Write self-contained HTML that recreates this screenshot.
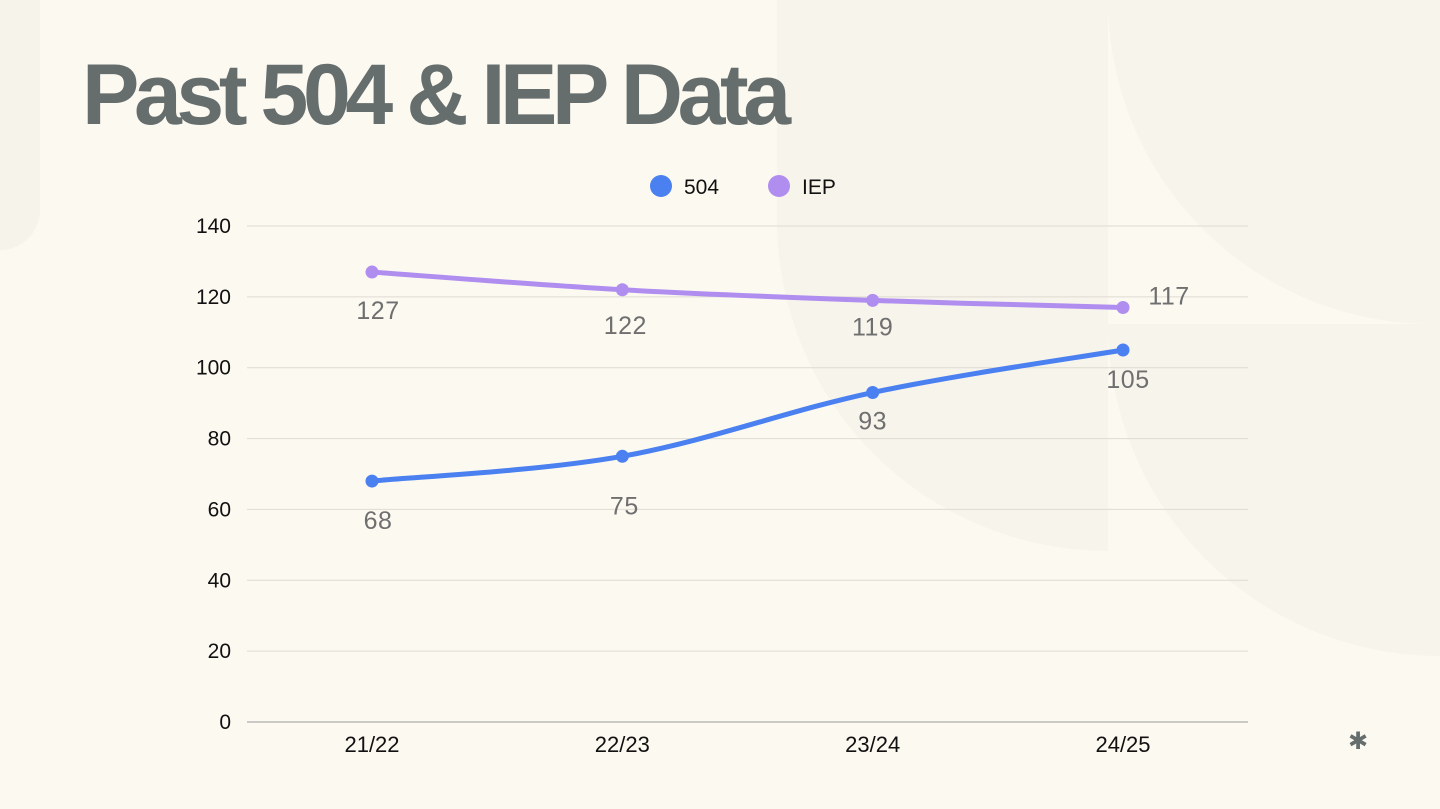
<!DOCTYPE html>
<html><head><meta charset="utf-8">
<style>
html,body{margin:0;padding:0;}
body{width:1440px;height:809px;overflow:hidden;background:#fcf9f1;position:relative;font-family:"Liberation Sans",sans-serif;}
.bg{position:absolute;background:#f7f4ec;}
#title{position:absolute;left:82px;top:45px;font-size:86px;font-weight:bold;color:#666e6d;letter-spacing:-5.4px;white-space:nowrap;line-height:100px;}
svg{position:absolute;left:0;top:0;}
</style></head>
<body>
<div class="bg" style="left:777px;top:0;width:331px;height:551px;border-bottom-left-radius:331px;"></div>
<div class="bg" style="left:1108px;top:0;width:332px;height:324px;border-bottom-left-radius:332px;"></div>
<div class="bg" style="left:1108px;top:324px;width:332px;height:332px;border-bottom-left-radius:332px;"></div>
<div class="bg" style="left:0;top:0;width:40px;height:250px;border-bottom-right-radius:40px;background:#f5f3ea;"></div>
<div id="title">Past 504 &amp; IEP Data</div>
<svg id="chart" width="1440" height="809"></svg>
<script>
const categories=["21/22","22/23","23/24","24/25"];
const series504=[68,75,93,105];
const seriesIEP=[127,122,119,117];
const yTicks=[0,20,40,60,80,100,120,140];
const NS="http://www.w3.org/2000/svg";
const svg=document.getElementById('chart');
const x0=247,x1=1248,y0=722,y1=226,yMax=140;
const step=(1123-372)/(categories.length-1);
function xs(i){return 372+i*step;}
function ys(v){return y0-(v/yMax)*(y0-y1);}
function mk(t,a,txt){const e=document.createElementNS(NS,t);for(const k in a)e.setAttribute(k,a[k]);if(txt!==undefined)e.textContent=txt;svg.appendChild(e);return e;}
yTicks.forEach(v=>{
  const g=mk('line',{x1:x0,x2:x1,y1:ys(v),y2:ys(v),stroke:v===0?'#9a9a9a':'#dedbd2','stroke-width':1});
  
  
  const t=mk('text',{x:231,y:ys(v)+7,'text-anchor':'end','font-size':21,fill:'#111','font-family':'Liberation Sans'},String(v));
  
  
});
categories.forEach((c,i)=>{
  const t=mk('text',{x:xs(i),y:752,'text-anchor':'middle','font-size':22,fill:'#111','font-family':'Liberation Sans'},c);
  
  
});
function path(vals){
  const p=vals.map((v,i)=>[xs(i),ys(v)]);
  let d='M'+p[0][0]+','+p[0][1];
  for(let i=0;i<p.length-1;i++){
    const a=p[i-1]||p[i],b=p[i],c=p[i+1],e=p[i+2]||c;
    const k=0.17;
    d+=' C'+(b[0]+(c[0]-a[0])*k)+','+(b[1]+(c[1]-a[1])*k)+' '+(c[0]-(e[0]-b[0])*k)+','+(c[1]-(e[1]-b[1])*k)+' '+c[0]+','+c[1];
  }
  return d;
}
function drawSeries(vals,color,name,labelPos){
  const l=mk('path',{d:path(vals),fill:'none',stroke:color,'stroke-width':5,'stroke-linecap':'round'});
  
  
  vals.forEach((v,i)=>{
    const c=mk('circle',{cx:xs(i),cy:ys(v),r:6.5,fill:color});
    
    
    const lp=labelPos(i);
    const t=mk('text',{x:xs(i)+lp[0],y:ys(v)+lp[1],'text-anchor':'middle','font-size':25,fill:'#6f6f6f','font-family':'Liberation Sans','letter-spacing':'0.5'},String(v));
    
    
  });
}
const iepOff=[[6,47],[3,44],[0,35],[46,-3]];
const s504Off=[[6,48],[2,58],[0,37],[5,38]];
drawSeries(seriesIEP,'#b08ef0','iep',i=>iepOff[i]);
drawSeries(series504,'#4a80f0','504',i=>s504Off[i]);
const lg=[['504','#4a80f0',661],['IEP','#b08ef0',779]];
lg.forEach(([n,c,x])=>{
  const d=mk('circle',{cx:x,cy:186,r:11,fill:c});
  
  
  const t=mk('text',{x:x+23,y:194,'font-size':21,fill:'#111','font-family':'Liberation Sans'},n);
  
  
});
const s=mk('text',{x:1358,y:749,'text-anchor':'middle','font-size':24,'font-weight':'bold',fill:'#666e6d','font-family':'DejaVu Sans'},'✱');


</script>
</body></html>
